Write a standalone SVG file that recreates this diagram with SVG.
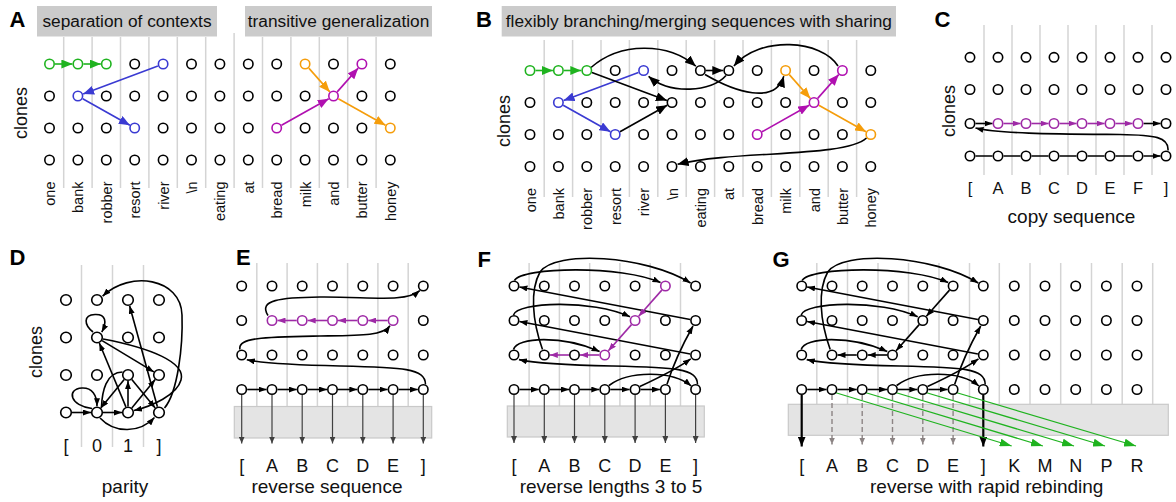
<svg xmlns="http://www.w3.org/2000/svg" width="1176" height="502" viewBox="0 0 1176 502">
<defs>
<style>
text{font-family:"Liberation Sans",Arial,sans-serif;fill:#111}
.pl{font-size:22px;font-weight:bold;fill:#000}
.hdr{font-size:17.3px;text-anchor:middle}
.cl{font-size:18px;text-anchor:middle}
.wl{font-size:14.5px;text-anchor:end}
.col{font-size:18px;text-anchor:middle}
.colc{font-size:16.5px;text-anchor:middle}
.cap{font-size:19px;text-anchor:middle}
.hbox{fill:#cbcbcb}
.tbox{fill:#e4e4e4;stroke:#c9c9c9;stroke-width:1.2}
.grid line{stroke:#d4d4d4;stroke-width:1.5}
.n{fill:#fff;stroke:#000;stroke-width:1.6}
.ng{stroke:#1fb31f}.nb{stroke:#3a3ad2}.no{stroke:#f59d0b}.nm{stroke:#b010b0}.np{stroke:#9e2aa6}
.k{fill:none;stroke:#000;stroke-width:1.6}
.g{fill:none;stroke:#1fb31f;stroke-width:1.6}
.b{fill:none;stroke:#3a3ad2;stroke-width:1.6}
.o{fill:none;stroke:#f59d0b;stroke-width:1.6}
.m{fill:none;stroke:#b010b0;stroke-width:1.6}
.p{fill:none;stroke:#9e2aa6;stroke-width:1.6}
.dn{fill:none;stroke:#404040;stroke-width:1.2}
.dg{fill:none;stroke:#8c8484;stroke-width:1.4;stroke-dasharray:5 3}
.dk{fill:none;stroke:#000;stroke-width:2.2}
.gr{fill:none;stroke:#1fb31f;stroke-width:1.3}
</style>
<marker id="Lk" viewBox="0 0 11 9" refX="11" refY="4.5" markerWidth="11" markerHeight="9" markerUnits="userSpaceOnUse" orient="auto"><path d="M0,0L11,4.5L0,9z" fill="#000"/></marker>
<marker id="Lg" viewBox="0 0 11 9" refX="11" refY="4.5" markerWidth="11" markerHeight="9" markerUnits="userSpaceOnUse" orient="auto"><path d="M0,0L11,4.5L0,9z" fill="#1fb31f"/></marker>
<marker id="Lb" viewBox="0 0 11 9" refX="11" refY="4.5" markerWidth="11" markerHeight="9" markerUnits="userSpaceOnUse" orient="auto"><path d="M0,0L11,4.5L0,9z" fill="#3a3ad2"/></marker>
<marker id="Lo" viewBox="0 0 11 9" refX="11" refY="4.5" markerWidth="11" markerHeight="9" markerUnits="userSpaceOnUse" orient="auto"><path d="M0,0L11,4.5L0,9z" fill="#f59d0b"/></marker>
<marker id="Lm" viewBox="0 0 11 9" refX="11" refY="4.5" markerWidth="11" markerHeight="9" markerUnits="userSpaceOnUse" orient="auto"><path d="M0,0L11,4.5L0,9z" fill="#b010b0"/></marker>
<marker id="Sk" viewBox="0 0 8 6" refX="8" refY="3" markerWidth="8" markerHeight="6" markerUnits="userSpaceOnUse" orient="auto"><path d="M0,0L8,3L0,6z" fill="#000"/></marker>
<marker id="Sp" viewBox="0 0 8 6" refX="8" refY="3" markerWidth="8" markerHeight="6" markerUnits="userSpaceOnUse" orient="auto"><path d="M0,0L8,3L0,6z" fill="#9e2aa6"/></marker>
<marker id="Dn" viewBox="0 0 7 6" refX="7" refY="3" markerWidth="7" markerHeight="6" markerUnits="userSpaceOnUse" orient="auto"><path d="M0,0L7,3L0,6z" fill="#404040"/></marker>
<marker id="Dg" viewBox="0 0 7 6" refX="7" refY="3" markerWidth="7" markerHeight="6" markerUnits="userSpaceOnUse" orient="auto"><path d="M0,0L7,3L0,6z" fill="#8c8484"/></marker>
<marker id="Dk" viewBox="0 0 10 8" refX="10" refY="4" markerWidth="10" markerHeight="8" markerUnits="userSpaceOnUse" orient="auto"><path d="M0,0L10,4L0,8z" fill="#000"/></marker>
<marker id="Gr" viewBox="0 0 12 8" refX="12" refY="4" markerWidth="12" markerHeight="8" markerUnits="userSpaceOnUse" orient="auto"><path d="M0,0L12,4L0,8z" fill="#1fb31f"/></marker>
</defs>
<rect width="1176" height="502" fill="#fff"/>

<!-- ===== Panel A ===== -->
<g id="panelA">
<text class="pl" x="9.5" y="27">A</text>
<rect class="hbox" x="37" y="6" width="180" height="30.5"/>
<text class="hdr" x="127" y="26.5">separation of contexts</text>
<rect class="hbox" x="245" y="6" width="187" height="30.5"/>
<text class="hdr" x="338.5" y="26.5">transitive generalization</text>
<g class="grid">
<line x1="63.7" y1="37" x2="63.7" y2="188"/><line x1="92.1" y1="37" x2="92.1" y2="188"/><line x1="120.5" y1="37" x2="120.5" y2="188"/><line x1="148.9" y1="37" x2="148.9" y2="188"/><line x1="177.3" y1="37" x2="177.3" y2="188"/><line x1="205.7" y1="37" x2="205.7" y2="188"/><line x1="234.1" y1="33" x2="234.1" y2="188"/><line x1="262.5" y1="37" x2="262.5" y2="188"/><line x1="290.9" y1="37" x2="290.9" y2="188"/><line x1="319.3" y1="37" x2="319.3" y2="188"/><line x1="347.7" y1="37" x2="347.7" y2="188"/><line x1="376.1" y1="37" x2="376.1" y2="188"/>
</g>
<text class="cl" transform="translate(27,113) rotate(-90)">clones</text>
<g class="wl">
<text class="wl" transform="translate(55,181.5) rotate(-90)">one</text>
<text class="wl" transform="translate(83.4,181.5) rotate(-90)">bank</text>
<text class="wl" transform="translate(111.8,181.5) rotate(-90)">robber</text>
<text class="wl" transform="translate(140.2,181.5) rotate(-90)">resort</text>
<text class="wl" transform="translate(168.6,181.5) rotate(-90)">river</text>
<text class="wl" transform="translate(197,181.5) rotate(-90)">\n</text>
<text class="wl" transform="translate(225.4,181.5) rotate(-90)">eating</text>
<text class="wl" transform="translate(253.8,181.5) rotate(-90)">at</text>
<text class="wl" transform="translate(282.2,181.5) rotate(-90)">bread</text>
<text class="wl" transform="translate(310.6,181.5) rotate(-90)">milk</text>
<text class="wl" transform="translate(339,181.5) rotate(-90)">and</text>
<text class="wl" transform="translate(367.4,181.5) rotate(-90)">butter</text>
<text class="wl" transform="translate(395.8,181.5) rotate(-90)">honey</text>
</g>
</g>
<g id="connectorsA">
<path class="g" marker-end="url(#Lg)" d="M55,64H72.4"/>
<path class="g" marker-end="url(#Lg)" d="M83.4,64H100.8"/>
<path class="b" marker-end="url(#Lb)" d="M157.9,65.9L83.1,94.1"/>
<path class="b" marker-end="url(#Lb)" d="M82.7,98.7L129.9,125.3"/>
<path class="o" marker-end="url(#Lo)" d="M308.8,68.1L329.8,91.9"/>
<path class="o" marker-end="url(#Lo)" d="M338.3,98.7L385.5,125.3"/>
<path class="m" marker-end="url(#Lm)" d="M281.5,125.3L328.7,98.7"/>
<path class="m" marker-end="url(#Lm)" d="M337.2,91.9L358.2,68.1"/>
</g>
<g id="nodesA">
<circle id="A_0_0" class="n ng" cx="49.5" cy="64" r="4.7"/><circle id="A_1_0" class="n ng" cx="77.9" cy="64" r="4.7"/><circle id="A_2_0" class="n ng" cx="106.3" cy="64" r="4.7"/><circle id="A_3_0" class="n" cx="134.7" cy="64" r="4.7"/><circle id="A_4_0" class="n nb" cx="163.1" cy="64" r="4.7"/><circle id="A_5_0" class="n" cx="191.5" cy="64" r="4.7"/><circle id="A_6_0" class="n" cx="219.9" cy="64" r="4.7"/><circle id="A_7_0" class="n" cx="248.3" cy="64" r="4.7"/><circle id="A_8_0" class="n" cx="276.7" cy="64" r="4.7"/><circle id="A_9_0" class="n no" cx="305.1" cy="64" r="4.7"/><circle id="A_10_0" class="n" cx="333.5" cy="64" r="4.7"/><circle id="A_11_0" class="n nm" cx="361.9" cy="64" r="4.7"/><circle id="A_12_0" class="n" cx="390.3" cy="64" r="4.7"/>
<circle id="A_0_1" class="n" cx="49.5" cy="96" r="4.7"/><circle id="A_1_1" class="n nb" cx="77.9" cy="96" r="4.7"/><circle id="A_2_1" class="n" cx="106.3" cy="96" r="4.7"/><circle id="A_3_1" class="n" cx="134.7" cy="96" r="4.7"/><circle id="A_4_1" class="n" cx="163.1" cy="96" r="4.7"/><circle id="A_5_1" class="n" cx="191.5" cy="96" r="4.7"/><circle id="A_6_1" class="n" cx="219.9" cy="96" r="4.7"/><circle id="A_7_1" class="n" cx="248.3" cy="96" r="4.7"/><circle id="A_8_1" class="n" cx="276.7" cy="96" r="4.7"/><circle id="A_9_1" class="n" cx="305.1" cy="96" r="4.7"/><circle id="A_10_1" class="n nm" cx="333.5" cy="96" r="4.7"/><circle id="A_11_1" class="n" cx="361.9" cy="96" r="4.7"/><circle id="A_12_1" class="n" cx="390.3" cy="96" r="4.7"/>
<circle id="A_0_2" class="n" cx="49.5" cy="128" r="4.7"/><circle id="A_1_2" class="n" cx="77.9" cy="128" r="4.7"/><circle id="A_2_2" class="n" cx="106.3" cy="128" r="4.7"/><circle id="A_3_2" class="n nb" cx="134.7" cy="128" r="4.7"/><circle id="A_4_2" class="n" cx="163.1" cy="128" r="4.7"/><circle id="A_5_2" class="n" cx="191.5" cy="128" r="4.7"/><circle id="A_6_2" class="n" cx="219.9" cy="128" r="4.7"/><circle id="A_7_2" class="n" cx="248.3" cy="128" r="4.7"/><circle id="A_8_2" class="n nm" cx="276.7" cy="128" r="4.7"/><circle id="A_9_2" class="n" cx="305.1" cy="128" r="4.7"/><circle id="A_10_2" class="n" cx="333.5" cy="128" r="4.7"/><circle id="A_11_2" class="n" cx="361.9" cy="128" r="4.7"/><circle id="A_12_2" class="n no" cx="390.3" cy="128" r="4.7"/>
<circle id="A_0_3" class="n" cx="49.5" cy="160" r="4.7"/><circle id="A_1_3" class="n" cx="77.9" cy="160" r="4.7"/><circle id="A_2_3" class="n" cx="106.3" cy="160" r="4.7"/><circle id="A_3_3" class="n" cx="134.7" cy="160" r="4.7"/><circle id="A_4_3" class="n" cx="163.1" cy="160" r="4.7"/><circle id="A_5_3" class="n" cx="191.5" cy="160" r="4.7"/><circle id="A_6_3" class="n" cx="219.9" cy="160" r="4.7"/><circle id="A_7_3" class="n" cx="248.3" cy="160" r="4.7"/><circle id="A_8_3" class="n" cx="276.7" cy="160" r="4.7"/><circle id="A_9_3" class="n" cx="305.1" cy="160" r="4.7"/><circle id="A_10_3" class="n" cx="333.5" cy="160" r="4.7"/><circle id="A_11_3" class="n" cx="361.9" cy="160" r="4.7"/><circle id="A_12_3" class="n" cx="390.3" cy="160" r="4.7"/>
</g>

<!-- ===== Panel B ===== -->
<g id="panelB">
<text class="pl" x="476" y="27">B</text>
<rect class="hbox" x="501.7" y="6" width="394.3" height="30.5"/>
<text class="hdr" x="698.9" y="26.5">flexibly branching/merging sequences with sharing</text>
<g class="grid">
<line x1="544.2" y1="40" x2="544.2" y2="197"/><line x1="572.6" y1="40" x2="572.6" y2="197"/><line x1="601" y1="40" x2="601" y2="197"/><line x1="629.4" y1="40" x2="629.4" y2="197"/><line x1="657.8" y1="40" x2="657.8" y2="197"/><line x1="686.2" y1="40" x2="686.2" y2="197"/><line x1="714.6" y1="40" x2="714.6" y2="197"/><line x1="743" y1="40" x2="743" y2="197"/><line x1="771.4" y1="40" x2="771.4" y2="197"/><line x1="799.8" y1="40" x2="799.8" y2="197"/><line x1="828.2" y1="40" x2="828.2" y2="197"/><line x1="856.6" y1="40" x2="856.6" y2="197"/>
</g>
<text class="cl" transform="translate(510,121) rotate(-90)">clones</text>
<text class="wl" transform="translate(535.5,188) rotate(-90)">one</text>
<text class="wl" transform="translate(563.9,188) rotate(-90)">bank</text>
<text class="wl" transform="translate(592.3,188) rotate(-90)">robber</text>
<text class="wl" transform="translate(620.7,188) rotate(-90)">resort</text>
<text class="wl" transform="translate(649.1,188) rotate(-90)">river</text>
<text class="wl" transform="translate(677.5,188) rotate(-90)">\n</text>
<text class="wl" transform="translate(705.9,188) rotate(-90)">eating</text>
<text class="wl" transform="translate(734.3,188) rotate(-90)">at</text>
<text class="wl" transform="translate(762.7,188) rotate(-90)">bread</text>
<text class="wl" transform="translate(791.1,188) rotate(-90)">milk</text>
<text class="wl" transform="translate(819.5,188) rotate(-90)">and</text>
<text class="wl" transform="translate(847.9,188) rotate(-90)">butter</text>
<text class="wl" transform="translate(876.3,188) rotate(-90)">honey</text>
</g>
<g id="connectorsB">
<path class="g" marker-end="url(#Lg)" d="M535.5,70.5H552.9"/>
<path class="g" marker-end="url(#Lg)" d="M563.9,70.5H581.3"/>
<path class="b" marker-end="url(#Lb)" d="M638.4,72.4L563.6,100.6"/>
<path class="b" marker-end="url(#Lb)" d="M563.2,105.2L610.4,131.8"/>
<path class="o" marker-end="url(#Lo)" d="M789.3,74.6L810.3,98.4"/>
<path class="o" marker-end="url(#Lo)" d="M818.8,105.2L866,131.8"/>
<path class="m" marker-end="url(#Lm)" d="M762,131.8L809.2,105.2"/>
<path class="m" marker-end="url(#Lm)" d="M817.7,98.4L838.7,74.6"/>
<path class="k" marker-end="url(#Lk)" d="M591,67.5C620,42 668,42 695.8,66.2"/>
<path class="k" marker-end="url(#Lk)" d="M591.9,72.4L666.9,100.6"/>
<path class="k" marker-end="url(#Lk)" d="M620,131.8L667.2,105.2"/>
<path class="k" marker-end="url(#Lk)" d="M705.9,70.5H723.3"/>
<path class="k" marker-end="url(#Lk)" d="M726,75.5C712,92 670,95 648.6,76.3"/>
<path class="k" marker-end="url(#Lk)" d="M705,74.5C735,92 775,105 783.8,76.2"/>
<path class="k" marker-end="url(#Lk)" d="M838,66C822,40 760,35 733.9,66"/>
<path class="k" marker-end="url(#Lk)" d="M866.5,138C845,158 735,150 677.6,164.3"/>
</g>
<g id="nodesB">
<circle id="B_0_0" class="n ng" cx="530" cy="70.5" r="4.7"/><circle id="B_1_0" class="n ng" cx="558.4" cy="70.5" r="4.7"/><circle id="B_2_0" class="n ng" cx="586.8" cy="70.5" r="4.7"/><circle id="B_3_0" class="n" cx="615.2" cy="70.5" r="4.7"/><circle id="B_4_0" class="n nb" cx="643.6" cy="70.5" r="4.7"/><circle id="B_5_0" class="n" cx="672" cy="70.5" r="4.7"/><circle id="B_6_0" class="n" cx="700.4" cy="70.5" r="4.7"/><circle id="B_7_0" class="n" cx="728.8" cy="70.5" r="4.7"/><circle id="B_8_0" class="n" cx="757.2" cy="70.5" r="4.7"/><circle id="B_9_0" class="n no" cx="785.6" cy="70.5" r="4.7"/><circle id="B_10_0" class="n" cx="814" cy="70.5" r="4.7"/><circle id="B_11_0" class="n nm" cx="842.4" cy="70.5" r="4.7"/><circle id="B_12_0" class="n" cx="870.8" cy="70.5" r="4.7"/>
<circle id="B_0_1" class="n" cx="530" cy="102.5" r="4.7"/><circle id="B_1_1" class="n nb" cx="558.4" cy="102.5" r="4.7"/><circle id="B_2_1" class="n" cx="586.8" cy="102.5" r="4.7"/><circle id="B_3_1" class="n" cx="615.2" cy="102.5" r="4.7"/><circle id="B_4_1" class="n" cx="643.6" cy="102.5" r="4.7"/><circle id="B_5_1" class="n" cx="672" cy="102.5" r="4.7"/><circle id="B_6_1" class="n" cx="700.4" cy="102.5" r="4.7"/><circle id="B_7_1" class="n" cx="728.8" cy="102.5" r="4.7"/><circle id="B_8_1" class="n" cx="757.2" cy="102.5" r="4.7"/><circle id="B_9_1" class="n" cx="785.6" cy="102.5" r="4.7"/><circle id="B_10_1" class="n nm" cx="814" cy="102.5" r="4.7"/><circle id="B_11_1" class="n" cx="842.4" cy="102.5" r="4.7"/><circle id="B_12_1" class="n" cx="870.8" cy="102.5" r="4.7"/>
<circle id="B_0_2" class="n" cx="530" cy="134.5" r="4.7"/><circle id="B_1_2" class="n" cx="558.4" cy="134.5" r="4.7"/><circle id="B_2_2" class="n" cx="586.8" cy="134.5" r="4.7"/><circle id="B_3_2" class="n nb" cx="615.2" cy="134.5" r="4.7"/><circle id="B_4_2" class="n" cx="643.6" cy="134.5" r="4.7"/><circle id="B_5_2" class="n" cx="672" cy="134.5" r="4.7"/><circle id="B_6_2" class="n" cx="700.4" cy="134.5" r="4.7"/><circle id="B_7_2" class="n" cx="728.8" cy="134.5" r="4.7"/><circle id="B_8_2" class="n nm" cx="757.2" cy="134.5" r="4.7"/><circle id="B_9_2" class="n" cx="785.6" cy="134.5" r="4.7"/><circle id="B_10_2" class="n" cx="814" cy="134.5" r="4.7"/><circle id="B_11_2" class="n" cx="842.4" cy="134.5" r="4.7"/><circle id="B_12_2" class="n no" cx="870.8" cy="134.5" r="4.7"/>
<circle id="B_0_3" class="n" cx="530" cy="166.5" r="4.7"/><circle id="B_1_3" class="n" cx="558.4" cy="166.5" r="4.7"/><circle id="B_2_3" class="n" cx="586.8" cy="166.5" r="4.7"/><circle id="B_3_3" class="n" cx="615.2" cy="166.5" r="4.7"/><circle id="B_4_3" class="n" cx="643.6" cy="166.5" r="4.7"/><circle id="B_5_3" class="n" cx="672" cy="166.5" r="4.7"/><circle id="B_6_3" class="n" cx="700.4" cy="166.5" r="4.7"/><circle id="B_7_3" class="n" cx="728.8" cy="166.5" r="4.7"/><circle id="B_8_3" class="n" cx="757.2" cy="166.5" r="4.7"/><circle id="B_9_3" class="n" cx="785.6" cy="166.5" r="4.7"/><circle id="B_10_3" class="n" cx="814" cy="166.5" r="4.7"/><circle id="B_11_3" class="n" cx="842.4" cy="166.5" r="4.7"/><circle id="B_12_3" class="n" cx="870.8" cy="166.5" r="4.7"/>
</g>

<!-- ===== Panel C ===== -->
<g id="panelC">
<text class="pl" x="934.5" y="27">C</text>
<g class="grid">
<line x1="984" y1="25" x2="984" y2="175"/><line x1="1012" y1="25" x2="1012" y2="175"/><line x1="1040" y1="25" x2="1040" y2="175"/><line x1="1068" y1="25" x2="1068" y2="175"/><line x1="1096" y1="25" x2="1096" y2="175"/><line x1="1124" y1="25" x2="1124" y2="175"/><line x1="1152" y1="25" x2="1152" y2="175"/>
</g>
<text class="cl" transform="translate(955,111) rotate(-90)">clones</text>
<text class="colc" x="970" y="193.5">[</text><text class="colc" x="998" y="193.5">A</text><text class="colc" x="1026" y="193.5">B</text><text class="colc" x="1054" y="193.5">C</text><text class="colc" x="1082" y="193.5">D</text><text class="colc" x="1110" y="193.5">E</text><text class="colc" x="1138" y="193.5">F</text><text class="colc" x="1166" y="193.5">]</text>
<text class="cap" x="1071.5" y="222.5">copy sequence</text>
</g>
<g id="connectorsC">
<path class="k" marker-end="url(#Sk)" d="M975.5,156H992.5M1003.5,156H1020.5M1031.5,156H1048.5M1059.5,156H1076.5M1087.5,156H1104.5M1115.5,156H1132.5M1143.5,156H1160.5"/>
<path class="k" marker-end="url(#Sk)" d="M975.5,123.5H992.5"/>
<path class="p" marker-end="url(#Sp)" d="M1003.5,123.5H1020.5"/>
<path class="p" marker-end="url(#Sp)" d="M1031.5,123.5H1048.5"/>
<path class="p" marker-end="url(#Sp)" d="M1059.5,123.5H1076.5"/>
<path class="p" marker-end="url(#Sp)" d="M1087.5,123.5H1104.5"/>
<path class="p" marker-end="url(#Sp)" d="M1115.5,123.5H1132.5"/>
<path class="k" marker-end="url(#Sk)" d="M1143.5,123.5H1160.5"/>
<path class="k" marker-end="url(#Sk)" d="M1168,150.5C1169,137 1155,135 1120,134.5C1060,134 1000,134 975.5,128"/>
</g>
<g id="nodesC">
<circle id="C_0_0" class="n" cx="970" cy="57.3" r="4.7"/><circle id="C_1_0" class="n" cx="998" cy="57.3" r="4.7"/><circle id="C_2_0" class="n" cx="1026" cy="57.3" r="4.7"/><circle id="C_3_0" class="n" cx="1054" cy="57.3" r="4.7"/><circle id="C_4_0" class="n" cx="1082" cy="57.3" r="4.7"/><circle id="C_5_0" class="n" cx="1110" cy="57.3" r="4.7"/><circle id="C_6_0" class="n" cx="1138" cy="57.3" r="4.7"/><circle id="C_7_0" class="n" cx="1166" cy="57.3" r="4.7"/>
<circle id="C_0_1" class="n" cx="970" cy="89.5" r="4.7"/><circle id="C_1_1" class="n" cx="998" cy="89.5" r="4.7"/><circle id="C_2_1" class="n" cx="1026" cy="89.5" r="4.7"/><circle id="C_3_1" class="n" cx="1054" cy="89.5" r="4.7"/><circle id="C_4_1" class="n" cx="1082" cy="89.5" r="4.7"/><circle id="C_5_1" class="n" cx="1110" cy="89.5" r="4.7"/><circle id="C_6_1" class="n" cx="1138" cy="89.5" r="4.7"/><circle id="C_7_1" class="n" cx="1166" cy="89.5" r="4.7"/>
<circle id="C_0_2" class="n" cx="970" cy="123.5" r="4.7"/><circle id="C_1_2" class="n np" cx="998" cy="123.5" r="4.7"/><circle id="C_2_2" class="n np" cx="1026" cy="123.5" r="4.7"/><circle id="C_3_2" class="n np" cx="1054" cy="123.5" r="4.7"/><circle id="C_4_2" class="n np" cx="1082" cy="123.5" r="4.7"/><circle id="C_5_2" class="n np" cx="1110" cy="123.5" r="4.7"/><circle id="C_6_2" class="n np" cx="1138" cy="123.5" r="4.7"/><circle id="C_7_2" class="n" cx="1166" cy="123.5" r="4.7"/>
<circle id="C_0_3" class="n" cx="970" cy="156" r="4.7"/><circle id="C_1_3" class="n" cx="998" cy="156" r="4.7"/><circle id="C_2_3" class="n" cx="1026" cy="156" r="4.7"/><circle id="C_3_3" class="n" cx="1054" cy="156" r="4.7"/><circle id="C_4_3" class="n" cx="1082" cy="156" r="4.7"/><circle id="C_5_3" class="n" cx="1110" cy="156" r="4.7"/><circle id="C_6_3" class="n" cx="1138" cy="156" r="4.7"/><circle id="C_7_3" class="n" cx="1166" cy="156" r="4.7"/>
</g>

<!-- ===== Panel D ===== -->
<g id="panelD">
<text class="pl" x="9.5" y="265">D</text>
<g class="grid">
<line x1="81.5" y1="265" x2="81.5" y2="447"/><line x1="112.5" y1="265" x2="112.5" y2="447"/><line x1="143.5" y1="265" x2="143.5" y2="447"/>
</g>
<text class="cl" transform="translate(41.5,352) rotate(-90)">clones</text>
<text class="col" x="66" y="452">[</text><text class="col" x="97" y="452">0</text><text class="col" x="128" y="452">1</text><text class="col" x="159" y="452">]</text>
<text class="cap" x="125" y="492.5">parity</text>
</g>
<g id="connectorsD">
<path class="k" marker-end="url(#Sk)" d="M71.5,412.5H91"/>
<path class="k" marker-end="url(#Sk)" d="M102.5,412.5H122"/>
<path class="k" marker-end="url(#Sk)" d="M92,408.5C70,406 66,389 82,388C92,387.5 97,395 97,406.2"/>
<path class="k" marker-end="url(#Sk)" d="M93,332C84,325 83,315 95,314.5C106,314 107,322 101.8,332.2"/>
<path class="k" marker-end="url(#Sk)" d="M128,406.4V381.1"/>
<path class="k" marker-end="url(#Sk)" d="M125.9,406.9L99.3,343"/>
<path class="k" marker-end="url(#Sk)" d="M102.1,340.6L153.9,371.9"/>
<path class="k" marker-end="url(#Sk)" d="M103,339C150,348 186,362 181,380C177,395 152,406 134,410.5"/>
<path class="k" marker-end="url(#Sk)" d="M157.4,406.7L129.6,305.8"/>
<path class="k" marker-end="url(#Sk)" d="M164.5,408C178,392 183,345 182,315C181,278 130,270 102.6,296.2"/>
<path class="k" marker-end="url(#Sk)" d="M124.2,379.6L100.8,407.9"/>
<path class="k" marker-end="url(#Sk)" d="M131.8,379.6L155.2,407.9"/>
<path class="k" marker-end="url(#Sk)" d="M131.8,407.9L155.2,379.6"/>
<path class="k" marker-end="url(#Sk)" d="M100,418C115,434 140,433 154.5,417.5"/>
<path class="k" d="M101.5,407C102,392 106,372 122.5,372"/>
</g>
<g id="nodesD">
<circle id="D_0_0" class="n" cx="66" cy="300" r="5.3"/><circle id="D_1_0" class="n" cx="97" cy="300" r="5.3"/><circle id="D_2_0" class="n" cx="128" cy="300" r="5.3"/><circle id="D_3_0" class="n" cx="159" cy="300" r="5.3"/>
<circle id="D_0_1" class="n" cx="66" cy="337.5" r="5.3"/><circle id="D_1_1" class="n" cx="97" cy="337.5" r="5.3"/><circle id="D_2_1" class="n" cx="128" cy="337.5" r="5.3"/><circle id="D_3_1" class="n" cx="159" cy="337.5" r="5.3"/>
<circle id="D_0_2" class="n" cx="66" cy="375" r="5.3"/><circle id="D_1_2" class="n" cx="97" cy="375" r="5.3"/><circle id="D_2_2" class="n" cx="128" cy="375" r="5.3"/><circle id="D_3_2" class="n" cx="159" cy="375" r="5.3"/>
<circle id="D_0_3" class="n" cx="66" cy="412.5" r="5.3"/><circle id="D_1_3" class="n" cx="97" cy="412.5" r="5.3"/><circle id="D_2_3" class="n" cx="128" cy="412.5" r="5.3"/><circle id="D_3_3" class="n" cx="159" cy="412.5" r="5.3"/>
</g>

<!-- ===== Panel E ===== -->
<g id="panelE">
<text class="pl" x="236" y="265">E</text>
<g class="grid">
<line x1="256.8" y1="263" x2="256.8" y2="406"/><line x1="287.1" y1="263" x2="287.1" y2="406"/><line x1="317.4" y1="263" x2="317.4" y2="406"/><line x1="347.6" y1="263" x2="347.6" y2="406"/><line x1="377.9" y1="263" x2="377.9" y2="406"/><line x1="408.2" y1="263" x2="408.2" y2="406"/>
</g>
<rect class="tbox" x="234.3" y="406.5" width="197.4" height="31.5"/>
<text class="col" x="241.7" y="471.5">[</text><text class="col" x="272" y="471.5">A</text><text class="col" x="302.2" y="471.5">B</text><text class="col" x="332.5" y="471.5">C</text><text class="col" x="362.8" y="471.5">D</text><text class="col" x="393.1" y="471.5">E</text><text class="col" x="423.3" y="471.5">]</text>
<text class="cap" x="327" y="492.5">reverse sequence</text>
</g>
<g id="connectorsE">
<path class="dn" marker-end="url(#Dn)" d="M241.7,395V443.5"/><path class="dn" marker-end="url(#Dn)" d="M272,395V443.5"/><path class="dn" marker-end="url(#Dn)" d="M302.2,395V443.5"/><path class="dn" marker-end="url(#Dn)" d="M332.5,395V443.5"/><path class="dn" marker-end="url(#Dn)" d="M362.8,395V443.5"/><path class="dn" marker-end="url(#Dn)" d="M393.1,395V443.5"/><path class="dn" marker-end="url(#Dn)" d="M423.3,395V443.5"/>
<path class="k" marker-end="url(#Sk)" d="M247.2,389.5H266.5"/><path class="k" marker-end="url(#Sk)" d="M277.5,389.5H296.7"/><path class="k" marker-end="url(#Sk)" d="M307.7,389.5H327"/><path class="k" marker-end="url(#Sk)" d="M338,389.5H357.3"/><path class="k" marker-end="url(#Sk)" d="M368.3,389.5H387.6"/><path class="k" marker-end="url(#Sk)" d="M398.6,389.5H417.8"/>
<path class="p" marker-end="url(#Sp)" d="M387.6,320.5H368.3"/><path class="p" marker-end="url(#Sp)" d="M357.3,320.5H338"/><path class="p" marker-end="url(#Sp)" d="M327,320.5H307.7"/><path class="p" marker-end="url(#Sp)" d="M296.7,320.5H277.5"/>
<path class="k" marker-end="url(#Sk)" d="M425.5,384.5C425.5,368 402,367.5 340,366C290,365 262,363 246.8,359.8"/>
<path class="k" marker-end="url(#Sk)" d="M240,349.5C237,337 268,337 320,336C360,335.5 383,336 390,325.8"/>
<path class="k" marker-end="url(#Sk)" d="M268,315.5C258,300 280,297.5 320,297C370,296.5 405,303 419.8,290.6"/>
</g>
<g id="nodesE">
<circle id="E_0_0" class="n" cx="241.7" cy="286" r="4.7"/><circle id="E_1_0" class="n" cx="272" cy="286" r="4.7"/><circle id="E_2_0" class="n" cx="302.2" cy="286" r="4.7"/><circle id="E_3_0" class="n" cx="332.5" cy="286" r="4.7"/><circle id="E_4_0" class="n" cx="362.8" cy="286" r="4.7"/><circle id="E_5_0" class="n" cx="393.1" cy="286" r="4.7"/><circle id="E_6_0" class="n" cx="423.3" cy="286" r="4.7"/>
<circle id="E_0_1" class="n" cx="241.7" cy="320.5" r="4.7"/><circle id="E_1_1" class="n np" cx="272" cy="320.5" r="4.7"/><circle id="E_2_1" class="n np" cx="302.2" cy="320.5" r="4.7"/><circle id="E_3_1" class="n np" cx="332.5" cy="320.5" r="4.7"/><circle id="E_4_1" class="n np" cx="362.8" cy="320.5" r="4.7"/><circle id="E_5_1" class="n np" cx="393.1" cy="320.5" r="4.7"/><circle id="E_6_1" class="n" cx="423.3" cy="320.5" r="4.7"/>
<circle id="E_0_2" class="n" cx="241.7" cy="355" r="4.7"/><circle id="E_1_2" class="n" cx="272" cy="355" r="4.7"/><circle id="E_2_2" class="n" cx="302.2" cy="355" r="4.7"/><circle id="E_3_2" class="n" cx="332.5" cy="355" r="4.7"/><circle id="E_4_2" class="n" cx="362.8" cy="355" r="4.7"/><circle id="E_5_2" class="n" cx="393.1" cy="355" r="4.7"/><circle id="E_6_2" class="n" cx="423.3" cy="355" r="4.7"/>
<circle id="E_0_3" class="n" cx="241.7" cy="389.5" r="4.7"/><circle id="E_1_3" class="n" cx="272" cy="389.5" r="4.7"/><circle id="E_2_3" class="n" cx="302.2" cy="389.5" r="4.7"/><circle id="E_3_3" class="n" cx="332.5" cy="389.5" r="4.7"/><circle id="E_4_3" class="n" cx="362.8" cy="389.5" r="4.7"/><circle id="E_5_3" class="n" cx="393.1" cy="389.5" r="4.7"/><circle id="E_6_3" class="n" cx="423.3" cy="389.5" r="4.7"/>
</g>

<!-- ===== Panel F ===== -->
<g id="panelF">
<text class="pl" x="477.5" y="267">F</text>
<g class="grid">
<line x1="529.1" y1="263" x2="529.1" y2="406"/><line x1="559.4" y1="263" x2="559.4" y2="406"/><line x1="589.7" y1="263" x2="589.7" y2="406"/><line x1="619.9" y1="263" x2="619.9" y2="406"/><line x1="650.2" y1="263" x2="650.2" y2="406"/><line x1="680.5" y1="263" x2="680.5" y2="406"/>
</g>
<rect class="tbox" x="507.3" y="406" width="197" height="31"/>
<text class="col" x="514" y="471.5">[</text><text class="col" x="544.3" y="471.5">A</text><text class="col" x="574.5" y="471.5">B</text><text class="col" x="604.8" y="471.5">C</text><text class="col" x="635.1" y="471.5">D</text><text class="col" x="665.4" y="471.5">E</text><text class="col" x="695.6" y="471.5">]</text>
<text class="cap" x="611" y="492.5">reverse lengths 3 to 5</text>
</g>
<g id="connectorsF">
<path class="dn" marker-end="url(#Dn)" d="M514,395V443"/><path class="dn" marker-end="url(#Dn)" d="M544.3,395V443"/><path class="dn" marker-end="url(#Dn)" d="M574.5,395V443"/><path class="dn" marker-end="url(#Dn)" d="M604.8,395V443"/><path class="dn" marker-end="url(#Dn)" d="M635.1,395V443"/><path class="dn" marker-end="url(#Dn)" d="M665.4,395V443"/><path class="dn" marker-end="url(#Dn)" d="M695.6,395V443"/>
<path class="k" marker-end="url(#Sk)" d="M519.5,389.5H538.8"/><path class="k" marker-end="url(#Sk)" d="M549.8,389.5H569"/><path class="k" marker-end="url(#Sk)" d="M580,389.5H599.3"/><path class="k" marker-end="url(#Sk)" d="M610.3,389.5H629.6"/><path class="k" marker-end="url(#Sk)" d="M640.6,389.5H659.9"/>
<path class="k" marker-end="url(#Sk)" d="M609,385.5C628,371 672,370 691.2,386"/>
<path class="k" marker-end="url(#Sk)" d="M639.8,386.5C658,378 678,368 690.8,358.8"/>
<path class="k" marker-end="url(#Sk)" d="M667,384.2C674,362 684,342 693,326"/>
<path class="k" marker-end="url(#Sk)" d="M697.5,384.5C697.5,368 674,367.5 612,366C562,365 534,363 519,359.6"/>
<path class="k" marker-end="url(#Sk)" d="M513.5,349.5C517,337 562,335 599.6,351.4"/>
<path class="p" marker-end="url(#Sp)" d="M599.3,355H580"/><path class="p" marker-end="url(#Sp)" d="M569,355H549.8"/>
<path class="k" marker-end="url(#Sk)" d="M690.2,354L519.4,321.5"/>
<path class="k" marker-end="url(#Sk)" d="M513.5,315C517,302 592,299 630,316.8"/>
<path class="p" marker-end="url(#Sp)" d="M631.5,324.6L608.4,350.8"/>
<path class="k" marker-end="url(#Sk)" d="M690.2,319.5L519.4,287"/>
<path class="k" marker-end="url(#Sk)" d="M514.5,280.5C522,267 622,265 660.5,282.6"/>
<path class="p" marker-end="url(#Sp)" d="M661.8,290.1L638.7,316.3"/>
<path class="k" marker-end="url(#Sk)" d="M542.5,349.5C532,320 530,290 540,272C555,250 645,255 690.6,283"/>
</g>
<g id="nodesF">
<circle id="F_0_0" class="n" cx="514" cy="286" r="4.7"/><circle id="F_1_0" class="n" cx="544.3" cy="286" r="4.7"/><circle id="F_2_0" class="n" cx="574.5" cy="286" r="4.7"/><circle id="F_3_0" class="n" cx="604.8" cy="286" r="4.7"/><circle id="F_4_0" class="n" cx="635.1" cy="286" r="4.7"/><circle id="F_5_0" class="n np" cx="665.4" cy="286" r="4.7"/><circle id="F_6_0" class="n" cx="695.6" cy="286" r="4.7"/>
<circle id="F_0_1" class="n" cx="514" cy="320.5" r="4.7"/><circle id="F_1_1" class="n" cx="544.3" cy="320.5" r="4.7"/><circle id="F_2_1" class="n" cx="574.5" cy="320.5" r="4.7"/><circle id="F_3_1" class="n" cx="604.8" cy="320.5" r="4.7"/><circle id="F_4_1" class="n np" cx="635.1" cy="320.5" r="4.7"/><circle id="F_5_1" class="n" cx="665.4" cy="320.5" r="4.7"/><circle id="F_6_1" class="n" cx="695.6" cy="320.5" r="4.7"/>
<circle id="F_0_2" class="n" cx="514" cy="355" r="4.7"/><circle id="F_1_2" class="n" cx="544.3" cy="355" r="4.7"/><circle id="F_2_2" class="n" cx="574.5" cy="355" r="4.7"/><circle id="F_3_2" class="n np" cx="604.8" cy="355" r="4.7"/><circle id="F_4_2" class="n" cx="635.1" cy="355" r="4.7"/><circle id="F_5_2" class="n" cx="665.4" cy="355" r="4.7"/><circle id="F_6_2" class="n" cx="695.6" cy="355" r="4.7"/>
<circle id="F_0_3" class="n" cx="514" cy="389.5" r="4.7"/><circle id="F_1_3" class="n" cx="544.3" cy="389.5" r="4.7"/><circle id="F_2_3" class="n" cx="574.5" cy="389.5" r="4.7"/><circle id="F_3_3" class="n" cx="604.8" cy="389.5" r="4.7"/><circle id="F_4_3" class="n" cx="635.1" cy="389.5" r="4.7"/><circle id="F_5_3" class="n" cx="665.4" cy="389.5" r="4.7"/><circle id="F_6_3" class="n" cx="695.6" cy="389.5" r="4.7"/>
</g>

<!-- ===== Panel G ===== -->
<g id="panelG">
<text class="pl" x="772.5" y="267">G</text>
<g class="grid">
<line x1="816.8" y1="263" x2="816.8" y2="404"/><line x1="847.5" y1="263" x2="847.5" y2="404"/><line x1="878" y1="263" x2="878" y2="404"/><line x1="908.5" y1="263" x2="908.5" y2="404"/><line x1="939" y1="263" x2="939" y2="404"/><line x1="969.5" y1="263" x2="969.5" y2="404"/><line x1="999.3" y1="263" x2="999.3" y2="404"/><line x1="1030" y1="263" x2="1030" y2="404"/><line x1="1060.7" y1="263" x2="1060.7" y2="404"/><line x1="1091.5" y1="263" x2="1091.5" y2="404"/><line x1="1122.2" y1="263" x2="1122.2" y2="404"/><line x1="1152.7" y1="263" x2="1152.7" y2="404"/>
</g>
<rect class="tbox" x="788.3" y="404.3" width="380" height="31"/>
<text class="col" x="801.7" y="471.5">[</text><text class="col" x="832" y="471.5">A</text><text class="col" x="862.2" y="471.5">B</text><text class="col" x="892.5" y="471.5">C</text><text class="col" x="922.8" y="471.5">D</text><text class="col" x="953.1" y="471.5">E</text><text class="col" x="983.3" y="471.5">]</text><text class="col" x="1014.3" y="471.5">K</text><text class="col" x="1045" y="471.5">M</text><text class="col" x="1075.7" y="471.5">N</text><text class="col" x="1106.4" y="471.5">P</text><text class="col" x="1137" y="471.5">R</text>
<text class="cap" x="986.7" y="492.5">reverse with rapid rebinding</text>
</g>
<g id="connectorsG">
<path class="dk" marker-end="url(#Dk)" d="M801.7,395V446.5"/>
<path class="dk" marker-end="url(#Dk)" d="M983.3,395V446.5"/>
<path class="dg" marker-end="url(#Dg)" d="M832,395V444.5"/><path class="dg" marker-end="url(#Dg)" d="M862.2,395V444.5"/><path class="dg" marker-end="url(#Dg)" d="M892.5,395V444.5"/><path class="dg" marker-end="url(#Dg)" d="M922.8,395V444.5"/><path class="dg" marker-end="url(#Dg)" d="M953.1,395V444.5"/>
<path class="gr" marker-end="url(#Gr)" d="M835,392.5L1011.7,446"/>
<path class="gr" marker-end="url(#Gr)" d="M865.2,392.5L1042.9,446"/>
<path class="gr" marker-end="url(#Gr)" d="M895.5,392.5L1074,446"/>
<path class="gr" marker-end="url(#Gr)" d="M925.8,392.5L1105,446"/>
<path class="gr" marker-end="url(#Gr)" d="M956.1,392.5L1136,446"/>
<g transform="translate(287.7,0)">
<path class="k" marker-end="url(#Sk)" d="M519.5,389.5H538.8"/><path class="k" marker-end="url(#Sk)" d="M549.8,389.5H569"/><path class="k" marker-end="url(#Sk)" d="M580,389.5H599.3"/><path class="k" marker-end="url(#Sk)" d="M610.3,389.5H629.6"/><path class="k" marker-end="url(#Sk)" d="M640.6,389.5H659.9"/>
<path class="k" marker-end="url(#Sk)" d="M609,385.5C628,371 672,370 691.2,386"/>
<path class="k" marker-end="url(#Sk)" d="M639.8,386.5C658,378 678,368 690.8,358.8"/>
<path class="k" marker-end="url(#Sk)" d="M667,384.2C674,362 684,342 693,326"/>
<path class="k" marker-end="url(#Sk)" d="M697.5,384.5C697.5,368 674,367.5 612,366C562,365 534,363 519,359.6"/>
<path class="k" marker-end="url(#Sk)" d="M513.5,349.5C517,337 562,335 599.6,351.4"/>
<path class="k" marker-end="url(#Sk)" d="M599.3,355H580"/><path class="k" marker-end="url(#Sk)" d="M569,355H549.8"/>
<path class="k" marker-end="url(#Sk)" d="M690.2,354L519.4,321.5"/>
<path class="k" marker-end="url(#Sk)" d="M513.5,315C517,302 592,299 630,316.8"/>
<path class="k" marker-end="url(#Sk)" d="M631.5,324.6L608.4,350.8"/>
<path class="k" marker-end="url(#Sk)" d="M690.2,319.5L519.4,287"/>
<path class="k" marker-end="url(#Sk)" d="M514.5,280.5C522,267 622,265 660.5,282.6"/>
<path class="k" marker-end="url(#Sk)" d="M661.8,290.1L638.7,316.3"/>
<path class="k" marker-end="url(#Sk)" d="M542.5,349.5C532,320 530,290 540,272C555,250 645,255 690.6,283"/>
</g>
</g>
<g id="nodesG">
<circle id="G_0_0" class="n" cx="801.7" cy="286" r="4.7"/><circle id="G_1_0" class="n" cx="832" cy="286" r="4.7"/><circle id="G_2_0" class="n" cx="862.2" cy="286" r="4.7"/><circle id="G_3_0" class="n" cx="892.5" cy="286" r="4.7"/><circle id="G_4_0" class="n" cx="922.8" cy="286" r="4.7"/><circle id="G_5_0" class="n" cx="953.1" cy="286" r="4.7"/><circle id="G_6_0" class="n" cx="983.3" cy="286" r="4.7"/><circle id="G_7_0" class="n" cx="1014.3" cy="286" r="4.7"/><circle id="G_8_0" class="n" cx="1045" cy="286" r="4.7"/><circle id="G_9_0" class="n" cx="1075.7" cy="286" r="4.7"/><circle id="G_10_0" class="n" cx="1106.4" cy="286" r="4.7"/><circle id="G_11_0" class="n" cx="1137" cy="286" r="4.7"/>
<circle id="G_0_1" class="n" cx="801.7" cy="320.5" r="4.7"/><circle id="G_1_1" class="n" cx="832" cy="320.5" r="4.7"/><circle id="G_2_1" class="n" cx="862.2" cy="320.5" r="4.7"/><circle id="G_3_1" class="n" cx="892.5" cy="320.5" r="4.7"/><circle id="G_4_1" class="n" cx="922.8" cy="320.5" r="4.7"/><circle id="G_5_1" class="n" cx="953.1" cy="320.5" r="4.7"/><circle id="G_6_1" class="n" cx="983.3" cy="320.5" r="4.7"/><circle id="G_7_1" class="n" cx="1014.3" cy="320.5" r="4.7"/><circle id="G_8_1" class="n" cx="1045" cy="320.5" r="4.7"/><circle id="G_9_1" class="n" cx="1075.7" cy="320.5" r="4.7"/><circle id="G_10_1" class="n" cx="1106.4" cy="320.5" r="4.7"/><circle id="G_11_1" class="n" cx="1137" cy="320.5" r="4.7"/>
<circle id="G_0_2" class="n" cx="801.7" cy="355" r="4.7"/><circle id="G_1_2" class="n" cx="832" cy="355" r="4.7"/><circle id="G_2_2" class="n" cx="862.2" cy="355" r="4.7"/><circle id="G_3_2" class="n" cx="892.5" cy="355" r="4.7"/><circle id="G_4_2" class="n" cx="922.8" cy="355" r="4.7"/><circle id="G_5_2" class="n" cx="953.1" cy="355" r="4.7"/><circle id="G_6_2" class="n" cx="983.3" cy="355" r="4.7"/><circle id="G_7_2" class="n" cx="1014.3" cy="355" r="4.7"/><circle id="G_8_2" class="n" cx="1045" cy="355" r="4.7"/><circle id="G_9_2" class="n" cx="1075.7" cy="355" r="4.7"/><circle id="G_10_2" class="n" cx="1106.4" cy="355" r="4.7"/><circle id="G_11_2" class="n" cx="1137" cy="355" r="4.7"/>
<circle id="G_0_3" class="n" cx="801.7" cy="389.5" r="4.7"/><circle id="G_1_3" class="n" cx="832" cy="389.5" r="4.7"/><circle id="G_2_3" class="n" cx="862.2" cy="389.5" r="4.7"/><circle id="G_3_3" class="n" cx="892.5" cy="389.5" r="4.7"/><circle id="G_4_3" class="n" cx="922.8" cy="389.5" r="4.7"/><circle id="G_5_3" class="n" cx="953.1" cy="389.5" r="4.7"/><circle id="G_6_3" class="n" cx="983.3" cy="389.5" r="4.7"/><circle id="G_7_3" class="n" cx="1014.3" cy="389.5" r="4.7"/><circle id="G_8_3" class="n" cx="1045" cy="389.5" r="4.7"/><circle id="G_9_3" class="n" cx="1075.7" cy="389.5" r="4.7"/><circle id="G_10_3" class="n" cx="1106.4" cy="389.5" r="4.7"/><circle id="G_11_3" class="n" cx="1137" cy="389.5" r="4.7"/>
</g>
</svg>
